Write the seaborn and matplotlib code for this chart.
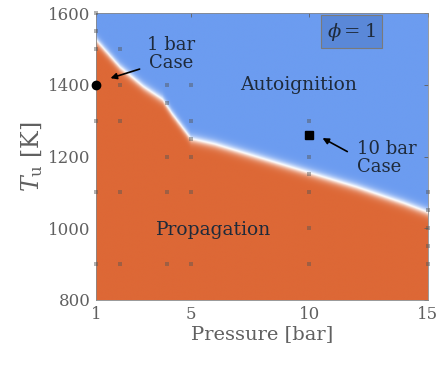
import numpy as np
import pandas as pd
import matplotlib
matplotlib.use("Agg")
import matplotlib.pyplot as plt
import seaborn as sns
from matplotlib.colors import LinearSegmentedColormap

# ---- data ----
boundary_p = [1, 2, 3, 3.8, 4.2, 5, 6, 8, 10, 12, 14, 15]
boundary_T = [1525, 1450, 1395, 1360, 1320, 1250, 1235, 1195, 1155, 1115, 1070, 1045]

sample_p = [1, 1, 1, 1, 1, 1,
            2, 2, 2, 2, 2,
            4, 4, 4, 4, 4,
            5, 5, 5, 5, 5, 5,
            10, 10, 10, 10, 10, 10,
            15, 15, 15, 15, 15]
sample_T = [900, 1100, 1300, 1500, 1550, 1600,
            900, 1100, 1300, 1400, 1500,
            900, 1100, 1200, 1350, 1400,
            900, 1100, 1200, 1250, 1300, 1400,
            900, 1000, 1100, 1150, 1200, 1300,
            900, 950, 1000, 1050, 1100]

case_p = [1, 10]
case_T = [1400, 1260]
case_marker = ["o", "s"]

x_ticks = [1, 5, 10, 15]
y_ticks = [800, 1000, 1200, 1400, 1600]

# ---- style ----
sns.set_style("white")
plt.rcParams["font.family"] = ["DejaVu Serif"]
plt.rcParams["mathtext.fontset"] = "dejavuserif"

orange = "#dd6836"
blue = "#6c9cf0"
cmap = LinearSegmentedColormap.from_list("ob", [(0, orange), (0.5, "#ffffff"), (1, blue)])

fig = plt.figure(figsize=(4.45, 3.65), dpi=100)
ax = fig.add_axes([96 / 445, 1 - 300 / 365, (428 - 96) / 445, (300 - 13) / 365])

# background field (propagation vs autoignition)
pg = np.linspace(1, 15, 600)
Tg = np.linspace(800, 1600, 600)
P, T = np.meshgrid(pg, Tg)
Tb = np.interp(P, boundary_p, boundary_T)
field = np.tanh((T - Tb) / 14.0)
ax.imshow(field, extent=[1, 15, 800, 1600], origin="lower", aspect="auto",
          cmap=cmap, vmin=-1, vmax=1, interpolation="bilinear")

# sample points
df = pd.DataFrame({"p": sample_p, "T": sample_T})
sns.scatterplot(data=df, x="p", y="T", ax=ax, marker="s", s=7, color="#555555",
                alpha=0.45, linewidth=0, zorder=3, clip_on=False)

# highlighted cases
for p, t, m in zip(case_p, case_T, case_marker):
    ax.plot(p, t, marker=m, color="black", markersize=6 if m == "o" else 5.5,
            zorder=5, clip_on=False)

ax.set_xlim(1, 15)
ax.set_ylim(800, 1600)
ax.set_xticks(x_ticks)
ax.set_yticks(y_ticks)
ax.set_xticklabels([str(v) for v in x_ticks])
ax.set_yticklabels([str(v) for v in y_ticks])
ax.tick_params(axis="both", direction="in", length=3, width=0.6, colors="#606060",
               labelsize=12, top=True, right=True, labelcolor="#606060", pad=4)
ax.set_xlabel("Pressure [bar]", fontsize=14, color="#606060", labelpad=2)
ax.set_ylabel(r"$T_\mathrm{u}$ [K]", fontsize=17, color="#606060", labelpad=2)
for s in ax.spines.values():
    s.set_color("#888888")
    s.set_linewidth(0.6)

# annotations
txt_color = "#1e2a3a"
ax.text(9.55, 1399, "Autoignition", fontsize=13.5, color=txt_color, ha="center", va="center")
ax.text(5.95, 995, "Propagation", fontsize=13.5, color=txt_color, ha="center", va="center")
ax.text(4.15, 1485, "1 bar\nCase", fontsize=13, color=txt_color, ha="center", va="center",
        linespacing=1.0)
ax.annotate("", xy=(1.5, 1416), xytext=(2.95, 1446),
            arrowprops=dict(arrowstyle="-|>", color="black", lw=1.2, mutation_scale=9))
ax.text(12.0, 1197, "10 bar\nCase", fontsize=13, color=txt_color, ha="left", va="center",
        linespacing=1.0)
ax.annotate("", xy=(10.45, 1255), xytext=(11.7, 1210),
            arrowprops=dict(arrowstyle="-|>", color="black", lw=1.2, mutation_scale=9))
ax.text(11.78, 1548, r"$\phi = 1$", fontsize=14, color=txt_color, ha="center", va="center",
        bbox=dict(boxstyle="square,pad=0.3", fc="#5a88d8", ec="#7a7a7a", lw=0.8))

fig.savefig("out.png", dpi=100)
